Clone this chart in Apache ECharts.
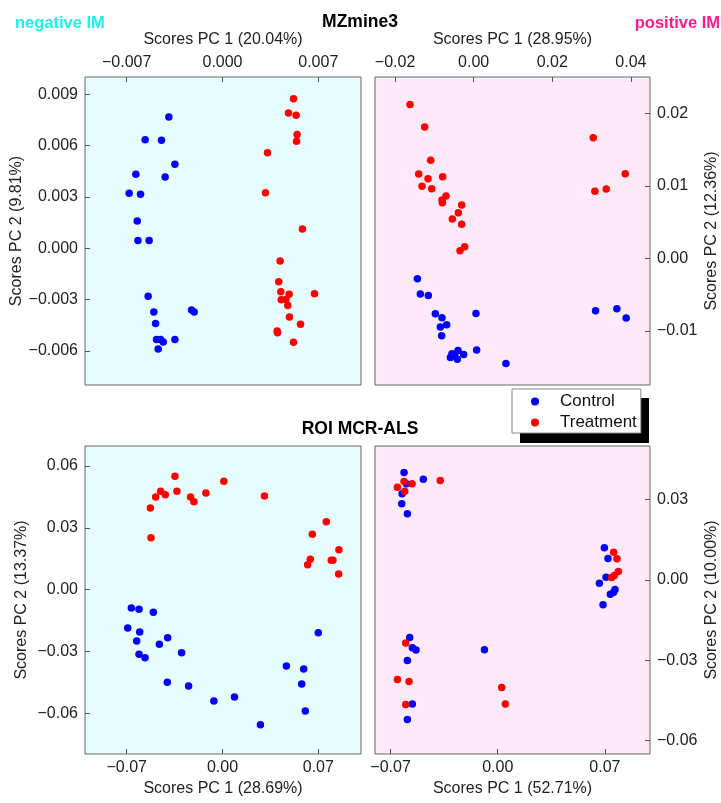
<!DOCTYPE html>
<html>
<head>
<meta charset="utf-8">
<script src="https://cdn.jsdelivr.net/npm/echarts@6/dist/echarts.min.js"></script>
<style>html,body{margin:0;padding:0;background:#fff}#c{width:721px;height:803px}</style>
</head>
<body>
<div id="c"></div>
<script>
// ---------- DATA ----------
// Panel A: MZmine3, negative IM
const mzNegControl = [
  [-0.00392,0.00766],[-0.00565,0.00633],[-0.00446,0.00631],[-0.00348,0.00490],[-0.00633,0.00432],
  [-0.00419,0.00416],[-0.00682,0.00321],[-0.00599,0.00315],[-0.00623,0.00159],[-0.00618,0.00045],
  [-0.00536,0.00045],[-0.00543,-0.00281],[-0.00502,-0.00374],[-0.00226,-0.00362],[-0.00207,-0.00374],
  [-0.00489,-0.00441],[-0.00482,-0.00534],[-0.00453,-0.00534],[-0.00433,-0.00548],[-0.00348,-0.00534],
  [-0.00470,-0.00590]
];
const mzNegTreatment = [
  [0.00519,0.00873],[0.00482,0.00790],[0.00538,0.00776],[0.00545,0.00664],[0.00541,0.00625],
  [0.00329,0.00557],[0.00314,0.00323],[0.00584,0.00112],[0.00421,-0.00075],[0.00411,-0.00197],
  [0.00426,-0.00255],[0.00487,-0.00269],[0.00672,-0.00267],[0.00429,-0.00302],[0.00463,-0.00300],
  [0.00477,-0.00335],[0.00489,-0.00403],[0.00570,-0.00445],[0.00399,-0.00484],[0.00402,-0.00495],
  [0.00519,-0.00550]
];
// Panel B: MZmine3, positive IM
const mzPosControl = [
  [-0.01432,-0.00280],[-0.01356,-0.00492],[-0.01153,-0.00510],[-0.00975,-0.00763],[-0.00805,-0.00818],
  [-0.00686,-0.00915],[-0.00847,-0.00947],[-0.00814,-0.01067],[0.00059,-0.00759],[0.00076,-0.01264],
  [-0.00551,-0.01315],[-0.00398,-0.01269],[-0.00254,-0.01324],[-0.00593,-0.01366],[-0.00415,-0.01389],
  [-0.00480,-0.01330],[0.00822,-0.01448],[0.03102,-0.00722],[0.03644,-0.00694],[0.03881,-0.00823]
];
const mzPosTreatment = [
  [-0.01619,0.02120],[-0.01246,0.01811],[-0.01093,0.01352],[-0.01398,0.01163],[-0.01161,0.01099],
  [-0.00788,0.01126],[-0.01314,0.00993],[-0.01068,0.00961],[-0.00703,0.00860],[-0.00805,0.00805],
  [-0.00797,0.00768],[-0.00305,0.00736],[-0.00390,0.00630],[-0.00542,0.00543],[-0.00305,0.00469],
  [-0.00229,0.00161],[-0.00347,0.00106],[0.03042,0.01664],[0.03856,0.01168],[0.03373,0.00956],
  [0.03085,0.00924]
];
// Panel C: ROI MCR-ALS, negative IM
const roiNegControl = [
  [-0.06660,-0.00889],[-0.06101,-0.00954],[-0.05056,-0.01100],[-0.06927,-0.01860],[-0.06052,-0.02054],
  [-0.06271,-0.02491],[-0.04010,-0.02329],[-0.04618,-0.02652],[-0.06101,-0.03137],[-0.05663,-0.03299],
  [-0.02990,-0.03057],[-0.04035,-0.04496],[-0.02479,-0.04674],[-0.00632,-0.05402],[0.00875,-0.05208],
  [0.02771,-0.06550],[0.04667,-0.03704],[0.05931,-0.03849],[0.05785,-0.04577],[0.06052,-0.05887],
  [0.07000,-0.02086]
];
const roiNegTreatment = [
  [-0.03476,0.05499],[-0.05274,0.03962],[-0.05226,0.02523],[-0.04885,0.04496],[-0.04521,0.04771],
  [-0.04181,0.04609],[-0.03330,0.04771],[-0.02333,0.04496],[-0.02090,0.04269],[-0.01215,0.04690],
  [0.00097,0.05256],[0.03063,0.04544],[0.07583,0.03299],[0.06563,0.02685],[0.06417,0.01472],
  [0.06222,0.01213],[0.07948,0.01423],[0.08069,0.01423],[0.08507,0.01941],[0.08483,0.00760]
];
// Panel D: ROI MCR-ALS, positive IM
const roiPosControl = [
  [-0.06121,0.04000],[-0.04862,0.03752],[-0.05969,0.03578],[-0.06251,0.03205],[-0.06273,0.02832],
  [-0.05904,0.02460],[0.06967,0.01193],[0.07206,0.00795],[0.07076,0.00099],[0.06642,-0.00124],
  [0.07662,-0.00360],[0.07575,-0.00460],[0.07358,-0.00534],[0.06881,-0.00932],[-0.05752,-0.02149],
  [-0.05578,-0.02534],[-0.05340,-0.02621],[-0.05904,-0.03006],[-0.00868,-0.02609],[-0.05578,-0.04634],
  [-0.05904,-0.05205]
];
const roiPosTreatment = [
  [-0.06555,0.03453],[-0.06121,0.03665],[-0.05600,0.03578],[-0.06077,0.03304],[-0.03755,0.03702],
  [0.07575,0.01031],[0.07792,0.00783],[0.07879,0.00311],[0.07618,0.00161],[0.07445,0.00087],
  [-0.06012,-0.02360],[-0.06555,-0.03714],[-0.05796,-0.03789],[-0.06012,-0.04646],[0.00260,-0.04012],
  [0.00499,-0.04634]
];

// Tick labels
const ticksAX = [-0.007, 0, 0.007];
const ticksAY = [-0.006, -0.003, 0, 0.003, 0.006, 0.009];
const ticksBX = [-0.02, 0, 0.02, 0.04];
const ticksBY = [-0.01, 0, 0.01, 0.02];
const ticksCX = [-0.07, 0, 0.07];
const ticksCY = [-0.06, -0.03, 0, 0.03, 0.06];
const ticksDX = [-0.07, 0, 0.07];
const ticksDY = [-0.06, -0.03, 0, 0.03];

const axisNames = {
  AX: 'Scores PC 1 (20.04%)', AY: 'Scores PC 2 (9.81%)',
  BX: 'Scores PC 1 (28.95%)', BY: 'Scores PC 2 (12.36%)',
  CX: 'Scores PC 1 (28.69%)', CY: 'Scores PC 2 (13.37%)',
  DX: 'Scores PC 1 (52.71%)', DY: 'Scores PC 2 (10.00%)'
};
const groupNames = ['Control', 'Treatment'];
const titleTexts = ['negative IM', 'MZmine3', 'positive IM', 'ROI MCR-ALS'];

// ---------- STYLE ----------
const FONT = 'Liberation Sans, Arial, Helvetica, sans-serif';
const CYAN_BG = '#E7FDFD', PINK_BG = '#FDE9F7';
const BLUE = '#0000FF', RED = '#FF0000';

function fmt(d) {
  return v => (v < -1e-12 ? '\u2212' : '') + Math.abs(v).toFixed(d);
}
function axis(kind, grid, pos, min, max, ticks, dec, name, nameGap, margin) {
  const a = {
    type: 'value', gridIndex: grid, position: pos, min: min, max: max,
    name: name, nameLocation: 'middle', nameGap: nameGap,
    nameTextStyle: { fontFamily: FONT, fontSize: 16, color: '#222' },
    axisLine: { show: false, onZero: false },
    splitLine: { show: false },
    axisTick: { show: true, inside: true, length: 5, customValues: ticks, lineStyle: { color: '#555', width: 1 } },
    axisLabel: { show: true, margin: margin, customValues: ticks, formatter: fmt(dec), fontFamily: FONT, fontSize: 16, color: '#222' }
  };
  if (kind === 'y') a.nameRotate = 90;
  return a;
}

const grids = [
  { left: 85, top: 77, width: 276, height: 308, backgroundColor: CYAN_BG },
  { left: 375, top: 77, width: 276, height: 308, backgroundColor: PINK_BG },
  { left: 85, top: 446, width: 276, height: 308, backgroundColor: CYAN_BG },
  { left: 375, top: 446, width: 276, height: 308, backgroundColor: PINK_BG }
].map(g => Object.assign(g, { show: true, borderColor: '#666', borderWidth: 1, containLabel: false }));

const xAxes = [
  axis('x', 0, 'top', -0.010047, 0.01012, ticksAX, 3, axisNames.AX, 29, 6),
  axis('x', 1, 'top', -0.0251, 0.04487, ticksBX, 2, axisNames.BX, 29, 6),
  axis('x', 2, 'bottom', -0.1005, 0.1012, ticksCX, 2, axisNames.CX, 27, 6),
  axis('x', 3, 'bottom', -0.0802, 0.0995, ticksDX, 2, axisNames.DX, 27, 6)
];
const yAxes = [
  axis('y', 0, 'left', -0.0080, 0.0100, ticksAY, 3, axisNames.AY, 55, 7),
  axis('y', 1, 'right', -0.01745, 0.0250, ticksBY, 2, axisNames.BY, 54, 7),
  axis('y', 2, 'left', -0.07974, 0.0697, ticksCY, 2, axisNames.CY, 55, 7),
  axis('y', 3, 'right', -0.06494, 0.04988, ticksDY, 2, axisNames.DY, 54, 7)
];

function sc(name, idx, data, color) {
  return {
    type: 'scatter', name: name, xAxisIndex: idx, yAxisIndex: idx, data: data,
    symbol: 'circle', symbolSize: 7.5,
    itemStyle: { color: color, opacity: 1 },
    emphasis: { disabled: true }, animation: false
  };
}
const series = [
  sc(groupNames[0], 0, mzNegControl, BLUE), sc(groupNames[1], 0, mzNegTreatment, RED),
  sc(groupNames[0], 1, mzPosControl, BLUE), sc(groupNames[1], 1, mzPosTreatment, RED),
  sc(groupNames[0], 2, roiNegControl, BLUE), sc(groupNames[1], 2, roiNegTreatment, RED),
  sc(groupNames[0], 3, roiPosControl, BLUE), sc(groupNames[1], 3, roiPosTreatment, RED)
];

const chart = echarts.init(document.getElementById('c'), null, { renderer: 'canvas' });
chart.setOption({
  animation: false,
  backgroundColor: '#fff',
  textStyle: { fontFamily: FONT },
  grid: grids, xAxis: xAxes, yAxis: yAxes, series: series,
  legend: {
    data: groupNames, orient: 'vertical', left: 512, top: 389, z: 10,
    padding: [4, 4, 2, 19], itemGap: 4, itemWidth: 40, itemHeight: 8, icon: 'circle',
    textStyle: { fontFamily: FONT, fontSize: 17, lineHeight: 17, color: '#111' },
    backgroundColor: '#fff', borderColor: '#888', borderWidth: 1,
    selectedMode: false
  },
  graphic: [
    { type: 'rect', z: 1, shape: { x: 520, y: 398, width: 129, height: 45 }, style: { fill: '#000' } },
    { type: 'text', x: 15, y: 23, style: { text: titleTexts[0], fill: '#19F0F0', font: 'bold 16.5px ' + FONT, align: 'left', verticalAlign: 'middle' } },
    { type: 'text', x: 360, y: 22, style: { text: titleTexts[1], fill: '#000', font: 'bold 17.5px ' + FONT, align: 'center', verticalAlign: 'middle' } },
    { type: 'text', x: 720, y: 23, style: { text: titleTexts[2], fill: '#FF1A8C', font: 'bold 16.5px ' + FONT, align: 'right', verticalAlign: 'middle' } },
    { type: 'text', x: 360, y: 429, style: { text: titleTexts[3], fill: '#000', font: 'bold 17.5px ' + FONT, align: 'center', verticalAlign: 'middle' } }
  ]
});
</script>
</body>
</html>
